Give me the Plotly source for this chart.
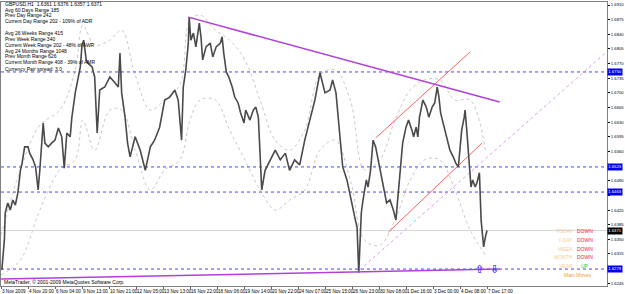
import plotly.graph_objects as go

# ---- data (bar index on H1 timeline, price) ----
price_bar = [1,4,5,8,11,14,17,20,23,25,28,32,34,38,41,44,46,50,52,56,60,64,68,72,75,78,82,84,88,91,94,96,98,101,103,108,111,114,117,123,129,135,139,141,143,147,150,153,159,165,171,177,182,188,194,200,206,210,214,216,219,222,223,225,228,231,235,237,239,243,248,251,255,260,262,264,267,270,274,277,281,284,288,290,295,299,302,305,309,313,319,325,331,337,342,348,354,360,366,372,378,382,384,390,393,397,402,405,410,414,417,420,422,424,427,429,433,435,438,441,444,447,450,454,457,461,465,468,470,473,476,480,483,487,489,492,494,496,500,504,507,511,514,517,519,521,525,529,532,536,539,542,544,546,549,550,552,555,557,559,562,564,567,569,572,574,576]
price_val = [1.6277,1.6348,1.6413,1.6437,1.6420,1.6444,1.6432,1.6461,1.6515,1.6532,1.6571,1.6571,1.6556,1.6540,1.6523,1.6468,1.6515,1.6628,1.6580,1.6571,1.6580,1.6587,1.6616,1.6595,1.6520,1.6604,1.6595,1.6642,1.6700,1.6731,1.6762,1.6814,1.6826,1.6779,1.6771,1.6762,1.6738,1.6604,1.6707,1.6714,1.6738,1.6724,1.6714,1.6795,1.6700,1.6642,1.6580,1.6547,1.6595,1.6563,1.6515,1.6571,1.6587,1.6618,1.6683,1.6690,1.6707,1.6683,1.6587,1.6714,1.6755,1.6819,1.6881,1.6826,1.6843,1.6810,1.6867,1.6834,1.6779,1.6810,1.6819,1.6786,1.6810,1.6819,1.6834,1.6795,1.6750,1.6738,1.6714,1.6690,1.6676,1.6652,1.6628,1.6659,1.6635,1.6659,1.6666,1.6642,1.6468,1.6515,1.6540,1.6563,1.6540,1.6556,1.6515,1.6540,1.6528,1.6587,1.6635,1.6683,1.6748,1.6719,1.6700,1.6707,1.6731,1.6700,1.6595,1.6523,1.6492,1.6451,1.6420,1.6396,1.6379,1.6270,1.6413,1.6444,1.6492,1.6475,1.6515,1.6587,1.6571,1.6540,1.6509,1.6461,1.6437,1.6444,1.6420,1.6396,1.6444,1.6523,1.6580,1.6618,1.6635,1.6611,1.6595,1.6618,1.6595,1.6642,1.6683,1.6666,1.6642,1.6666,1.6676,1.6714,1.6690,1.6652,1.6618,1.6587,1.6563,1.6547,1.6532,1.6523,1.6571,1.6611,1.6642,1.6659,1.6611,1.6523,1.6475,1.6492,1.6475,1.6485,1.6509,1.6396,1.6332,1.6355,1.6371]

band_bar = [0,23,46,70,88,97,111,129,143,159,177,194,212,224,236,254,271,289,307,325,342,360,378,396,414,431,449,467,485,502,520,538,556,574]
band_upper = [1.6360,1.6516,1.6623,1.6659,1.6755,1.6862,1.6814,1.6826,1.6850,1.6743,1.6659,1.6683,1.6719,1.6874,1.6886,1.6850,1.6826,1.6779,1.6683,1.6587,1.6563,1.6611,1.6743,1.6755,1.6683,1.6516,1.6540,1.6635,1.6707,1.6731,1.6731,1.6683,1.6683,1.6563]
band_lower = [1.6265,1.6301,1.6420,1.6516,1.6540,1.6635,1.6563,1.6659,1.6659,1.6563,1.6468,1.6516,1.6540,1.6635,1.6683,1.6683,1.6611,1.6540,1.6468,1.6420,1.6444,1.6468,1.6563,1.6587,1.6492,1.6348,1.6336,1.6396,1.6492,1.6540,1.6540,1.6468,1.6372,1.6313]

hlines = [1.6750, 1.6523, 1.6463, 1.6279]
current_price = 1.6371

trend_down = ([222, 591], [1.6881, 1.6678])
trend_bottom = ([0, 591], [1.6255, 1.6279])
channel_up = ([444, 556], [1.6592, 1.6798])
channel_low = ([459, 570], [1.6367, 1.6580])
pink_dotted = ([425, 720], [1.6277, 1.6802])

ytick_vals = [1.6910,1.6875,1.6840,1.6805,1.6770,1.6735,1.6700,1.6665,1.6630,1.6595,1.6560,1.6525,1.6490,1.6455,1.6420,1.6385,1.6350,1.6315,1.6280,1.6245]
ytick_hidden = [1.6525, 1.6280, 1.6455]
xtick_vals = [0,32,64,96,128,160,192,224,256,288,320,352,384,416,448,480,512,544,576]
xtick_text = ["3 Nov 2009","4 Nov 20:00","6 Nov 04:00","9 Nov 13:00","10 Nov 21:00","12 Nov 05:00","13 Nov 13:00","16 Nov 22:00","18 Nov 06:00","19 Nov 14:00","20 Nov 22:00","24 Nov 07:00","25 Nov 15:00","26 Nov 23:00","30 Nov 08:00","1 Dec 16:00","3 Dec 00:00","4 Dec 08:00","7 Dec 17:00"]

info_lines = ["GBPUSD,H1  1.6361 1.6376 1.6357 1.6371","Avg 60 Days Range 185","Prev Day Range 242","Current Day Range 202 - 109% of ADR",
              "Avg 26 Weeks Range 415","Prev Week Range 340","Current Week Range 202 - 48% of AWR",
              "Avg 24 Months Range 1048","Prev Month Range 626","Current Month Range 408 - 39% of AMR",
              "Currency Pair spread: 3.0"]
info_y = [4,9.5,15,20.7,33,39,45,50.5,56,62,69]

status_names = ["TODAY","Y-DAY","WEEK","MONTH","YEAR"]
status_vals = ["DOWN","DOWN","DOWN","DOWN","UP"]
status_y = [231,240,249,257,266]

FONT = "Liberation Sans Narrow, Liberation Sans, Arial"
W, H = 625, 294
L, R, T, B = 1, 18, 2, 8
XR = [0, 718.2]
YR = [1.62385, 1.69172]

def py(p):  # pixel row -> paper y
    return (H - B - p) / (H - T - B)
def px(p):
    return (p - L) / (W - L - R)

fig = go.Figure()
fig.add_trace(go.Scatter(x=band_bar, y=band_upper, mode="lines", line=dict(color="#c8c8c8", width=1, dash="dot", shape="spline"), hoverinfo="skip"))
fig.add_trace(go.Scatter(x=band_bar, y=band_lower, mode="lines", line=dict(color="#c8c8c8", width=1, dash="dot", shape="spline"), hoverinfo="skip"))
fig.add_trace(go.Scatter(x=[XR[0], XR[1]], y=[current_price]*2, mode="lines", line=dict(color="#d8d8d8", width=1)))
for h in hlines:
    fig.add_trace(go.Scatter(x=[XR[0], XR[1]], y=[h, h], mode="lines", line=dict(color="#4444ff", width=1, dash="dot")))
fig.add_trace(go.Scatter(x=pink_dotted[0], y=pink_dotted[1], mode="lines", line=dict(color="#dd99ee", width=1, dash="dot")))
fig.add_trace(go.Scatter(x=channel_up[0], y=channel_up[1], mode="lines", line=dict(color="#ff6060", width=1)))
fig.add_trace(go.Scatter(x=channel_low[0], y=channel_low[1], mode="lines", line=dict(color="#ff6060", width=1)))
fig.add_trace(go.Scatter(x=price_bar, y=price_val, mode="lines", line=dict(color="#4a4a4a", width=1.6)))
fig.add_trace(go.Scatter(x=trend_down[0], y=trend_down[1], mode="lines", line=dict(color="#b040d8", width=1.5)))
fig.add_trace(go.Scatter(x=trend_bottom[0], y=trend_bottom[1], mode="lines", line=dict(color="#b040d8", width=1.5)))

ann = []
for t, yy in zip(info_lines, info_y):
    ann.append(dict(text=t, x=px(3), y=py(yy), xref="paper", yref="paper", xanchor="left", yanchor="middle",
                    showarrow=False, font=dict(size=5, color="#000000", family="Liberation Sans")))
ann.append(dict(text="MetaTrader, © 2001-2009 MetaQuotes Software Corp.", x=px(2), y=py(282), xref="paper", yref="paper",
                xanchor="left", yanchor="middle", showarrow=False, font=dict(size=5, color="#000000", family="Liberation Sans")))
for n, v, yy in zip(status_names, status_vals, status_y):
    ann.append(dict(text=n, x=px(575), y=py(yy), xref="paper", yref="paper", xanchor="right", yanchor="middle",
                    showarrow=False, font=dict(size=5, color="#f8c8a0", family="Liberation Sans")))
    ann.append(dict(text=v, x=px(585), y=py(yy), xref="paper", yref="paper", xanchor="center", yanchor="middle",
                    showarrow=False, font=dict(size=5, color="#ee2222" if v == "DOWN" else "#22cc22", family="Liberation Sans")))
ann.append(dict(text="Main Moves", x=px(577), y=py(275), xref="paper", yref="paper", xanchor="center", yanchor="middle",
                showarrow=False, font=dict(size=5, color="#f0a040", family="Liberation Sans")))
ann.append(dict(text="⇧", x=567, y=1.6279, xanchor="center", yanchor="middle", showarrow=False,
                font=dict(size=11, color="#0000ff", family="DejaVu Sans")))
ann.append(dict(text="⇩", x=585, y=1.6279, xanchor="center", yanchor="middle", showarrow=False,
                font=dict(size=11, color="#0000ff", family="DejaVu Sans")))
for h in hlines:
    ann.append(dict(text=f"{h:.4f}", x=1.0, y=h, xref="paper", yref="y", xanchor="left", yanchor="middle", showarrow=False,
                    bgcolor="#0000ee", font=dict(size=4.2, color="#ffffff", family=FONT), borderpad=0.3))
ann.append(dict(text=f"{current_price:.4f}", x=1.0, y=current_price, xref="paper", yref="y", xanchor="left", yanchor="middle",
                showarrow=False, bgcolor="#000000", font=dict(size=4.2, color="#ffffff", family=FONT), borderpad=0.3))

fig.update_layout(
    width=W, height=H, margin=dict(l=L, r=R, t=T, b=B, autoexpand=False), paper_bgcolor="white", plot_bgcolor="white",
    showlegend=False, annotations=ann,
    xaxis=dict(range=XR, tickvals=xtick_vals, ticktext=xtick_text, ticks="outside", ticklen=2, tickcolor="#606060",
               tickangle=0, automargin=False,
               ticklabelposition="outside right", tickfont=dict(size=4.6, color="#000000", family=FONT),
               showgrid=False, zeroline=False, showline=True, linecolor="#808080", mirror=True),
    yaxis=dict(range=YR, side="right", tickvals=ytick_vals,
               ticktext=["" if v in ytick_hidden else f"{v:.4f}" for v in ytick_vals], ticks="outside",
               ticklen=2, tickcolor="#000000", automargin=False, ticklabelstandoff=0,
               tickfont=dict(size=4.2, color="#000000", family=FONT),
               showgrid=False, zeroline=False, showline=True, linecolor="#808080", mirror=True),
)
fig.write_html("out.html")
